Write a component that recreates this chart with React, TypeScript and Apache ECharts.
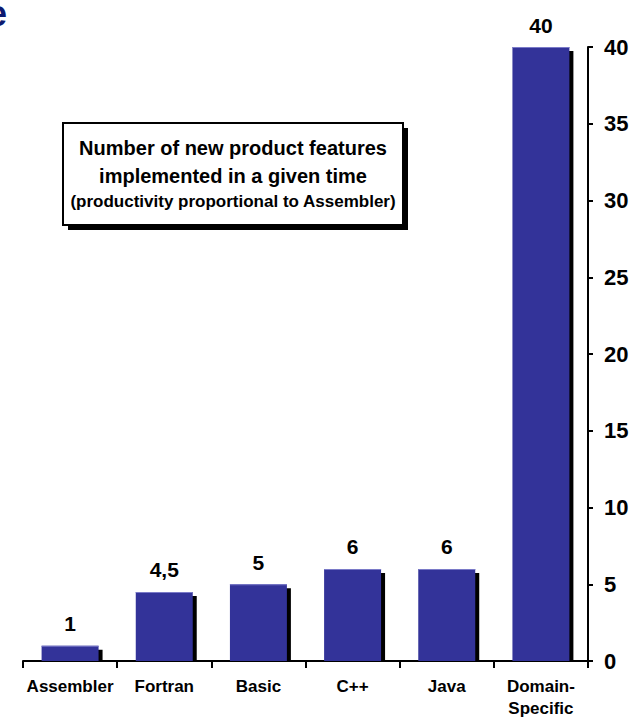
import React, { useEffect, useRef } from "react";
import * as echarts from "echarts";

const categories = ["Assembler", "Fortran", "Basic", "C++", "Java", "Domain-\nSpecific"];
const values = [1, 4.5, 5, 6, 6, 40];
const valueLabels = ["1", "4,5", "5", "6", "6", "40"];
const boxLines = [
  "Number of new product features",
  "implemented in a given time",
  "(productivity proportional to Assembler)",
];
const yMax = 40;
const yStep = 5;

const FONT = '"Liberation Sans", Arial, sans-serif';

export default function App() {
  const ref = useRef<HTMLDivElement>(null);
  useEffect(() => {
    if (!ref.current) return;
    const chart = echarts.init(ref.current, null, { renderer: "svg" });
    chart.setOption({
      animation: false,
      backgroundColor: "#ffffff",
      grid: { left: 23, right: 49, top: 47, bottom: 58 },
      xAxis: {
        type: "category",
        data: categories,
        boundaryGap: true,
        axisLine: { show: true, lineStyle: { color: "#000", width: 2 } },
        axisTick: { show: true, interval: 0, length: 7, lineStyle: { color: "#000", width: 2 } },
        axisLabel: {
          interval: 0,
          color: "#000",
          fontFamily: FONT,
          fontWeight: "bold",
          fontSize: 17,
          lineHeight: 22,
          margin: 14,
        },
      },
      yAxis: {
        type: "value",
        position: "right",
        min: 0,
        max: yMax,
        interval: yStep,
        splitLine: { show: false },
        axisLine: { show: true, lineStyle: { color: "#000", width: 2 } },
        axisTick: { show: true, inside: false, length: 5, lineStyle: { color: "#000", width: 2 } },
        axisLabel: {
          color: "#000",
          fontFamily: FONT,
          fontWeight: "bold",
          fontSize: 22,
          margin: 16,
        },
      },
      series: [
        {
          type: "custom",
          data: values.map((v, i) => [i, v]),
          encode: { x: 0, y: 1 },
          renderItem: (params: any, api: any) => {
            const idx = api.value(0);
            const v = api.value(1);
            const top = api.coord([idx, v]);
            const base = api.coord([idx, 0]);
            const w = api.size([1, 0])[0] * 0.605;
            const x = top[0] - w / 2;
            const h = base[1] - top[1];
            return {
              type: "group",
              children: [
                {
                  type: "rect",
                  shape: { x: x + 4, y: top[1] + 4, width: w, height: Math.max(h - 4, 0) },
                  style: { fill: "#000" },
                },
                {
                  type: "rect",
                  shape: { x, y: top[1], width: w, height: h },
                  style: { fill: "#333399" },
                },
                {
                  type: "rect",
                  shape: { x, y: top[1], width: w, height: 1 },
                  style: { fill: "#7a7ac8" },
                },
                {
                  type: "text",
                  style: {
                    text: valueLabels[idx],
                    x: top[0],
                    y: top[1] - 22,
                    align: "center",
                    verticalAlign: "middle",
                    font: `bold 21px ${FONT}`,
                    fill: "#000",
                  },
                },
              ],
            };
          },
        },
      ],
      graphic: [
        {
          type: "text",
          left: -13,
          top: -5,
          style: { text: "e", font: `bold 36px ${FONT}`, fill: "#0d1a70" },
        },
        {
          type: "rect",
          shape: { x: 68, y: 128, width: 340, height: 102 },
          style: { fill: "#000" },
        },
        {
          type: "rect",
          shape: { x: 63, y: 123, width: 340, height: 102 },
          style: { fill: "#fff", stroke: "#000", lineWidth: 2 },
        },
        {
          type: "text",
          x: 233,
          y: 148,
          style: { text: boxLines[0], align: "center", verticalAlign: "middle", font: `bold 20px ${FONT}`, fill: "#000" },
        },
        {
          type: "text",
          x: 233,
          y: 176,
          style: { text: boxLines[1], align: "center", verticalAlign: "middle", font: `bold 20px ${FONT}`, fill: "#000" },
        },
        {
          type: "text",
          x: 233,
          y: 201,
          style: { text: boxLines[2], align: "center", verticalAlign: "middle", font: `bold 17px ${FONT}`, fill: "#000" },
        },
      ],
    });
    return () => chart.dispose();
  }, []);
  return (
    <div
      ref={ref}
      style={{ position: "fixed", left: 0, top: 0, width: 637, height: 719, background: "#fff" }}
    />
  );
}
